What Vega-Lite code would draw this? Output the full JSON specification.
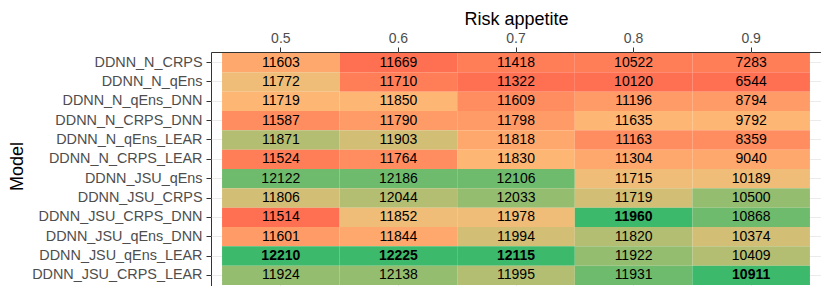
{
  "$schema": "https://vega.github.io/schema/vega-lite/v6.json",
  "width": 610,
  "height": 234,
  "autosize": {"type": "none"},
  "padding": {"left": 211, "top": 52, "right": 0, "bottom": 0},
  "background": "white",
  "config": {
    "view": {"stroke": "#333333", "strokeWidth": 1},
    "font": "Liberation Sans",
    "axis": {
      "labelColor": "#4D4D4D",
      "labelFontSize": 14,
      "labelFont": "Liberation Sans",
      "labelLimit": 400,
      "tickColor": "#333333",
      "tickSize": 5,
      "domain": false,
      "grid": true,
      "gridColor": "#EBEBEB",
      "gridWidth": 1,
      "zindex": 0,
      "titleColor": "#000000",
      "titleFontSize": 18,
      "titleFontWeight": "normal",
      "titleFont": "Liberation Sans"
    }
  },
  "data": {
    "values": [
      {"model": "DDNN_N_CRPS", "risk": 0.5, "value": 11603},
      {"model": "DDNN_N_CRPS", "risk": 0.6, "value": 11669},
      {"model": "DDNN_N_CRPS", "risk": 0.7, "value": 11418},
      {"model": "DDNN_N_CRPS", "risk": 0.8, "value": 10522},
      {"model": "DDNN_N_CRPS", "risk": 0.9, "value": 7283},
      {"model": "DDNN_N_qEns", "risk": 0.5, "value": 11772},
      {"model": "DDNN_N_qEns", "risk": 0.6, "value": 11710},
      {"model": "DDNN_N_qEns", "risk": 0.7, "value": 11322},
      {"model": "DDNN_N_qEns", "risk": 0.8, "value": 10120},
      {"model": "DDNN_N_qEns", "risk": 0.9, "value": 6544},
      {"model": "DDNN_N_qEns_DNN", "risk": 0.5, "value": 11719},
      {"model": "DDNN_N_qEns_DNN", "risk": 0.6, "value": 11850},
      {"model": "DDNN_N_qEns_DNN", "risk": 0.7, "value": 11609},
      {"model": "DDNN_N_qEns_DNN", "risk": 0.8, "value": 11196},
      {"model": "DDNN_N_qEns_DNN", "risk": 0.9, "value": 8794},
      {"model": "DDNN_N_CRPS_DNN", "risk": 0.5, "value": 11587},
      {"model": "DDNN_N_CRPS_DNN", "risk": 0.6, "value": 11790},
      {"model": "DDNN_N_CRPS_DNN", "risk": 0.7, "value": 11798},
      {"model": "DDNN_N_CRPS_DNN", "risk": 0.8, "value": 11635},
      {"model": "DDNN_N_CRPS_DNN", "risk": 0.9, "value": 9792},
      {"model": "DDNN_N_qEns_LEAR", "risk": 0.5, "value": 11871},
      {"model": "DDNN_N_qEns_LEAR", "risk": 0.6, "value": 11903},
      {"model": "DDNN_N_qEns_LEAR", "risk": 0.7, "value": 11818},
      {"model": "DDNN_N_qEns_LEAR", "risk": 0.8, "value": 11163},
      {"model": "DDNN_N_qEns_LEAR", "risk": 0.9, "value": 8359},
      {"model": "DDNN_N_CRPS_LEAR", "risk": 0.5, "value": 11524},
      {"model": "DDNN_N_CRPS_LEAR", "risk": 0.6, "value": 11764},
      {"model": "DDNN_N_CRPS_LEAR", "risk": 0.7, "value": 11830},
      {"model": "DDNN_N_CRPS_LEAR", "risk": 0.8, "value": 11304},
      {"model": "DDNN_N_CRPS_LEAR", "risk": 0.9, "value": 9040},
      {"model": "DDNN_JSU_qEns", "risk": 0.5, "value": 12122},
      {"model": "DDNN_JSU_qEns", "risk": 0.6, "value": 12186},
      {"model": "DDNN_JSU_qEns", "risk": 0.7, "value": 12106},
      {"model": "DDNN_JSU_qEns", "risk": 0.8, "value": 11715},
      {"model": "DDNN_JSU_qEns", "risk": 0.9, "value": 10189},
      {"model": "DDNN_JSU_CRPS", "risk": 0.5, "value": 11806},
      {"model": "DDNN_JSU_CRPS", "risk": 0.6, "value": 12044},
      {"model": "DDNN_JSU_CRPS", "risk": 0.7, "value": 12033},
      {"model": "DDNN_JSU_CRPS", "risk": 0.8, "value": 11719},
      {"model": "DDNN_JSU_CRPS", "risk": 0.9, "value": 10500},
      {"model": "DDNN_JSU_CRPS_DNN", "risk": 0.5, "value": 11514},
      {"model": "DDNN_JSU_CRPS_DNN", "risk": 0.6, "value": 11852},
      {"model": "DDNN_JSU_CRPS_DNN", "risk": 0.7, "value": 11978},
      {"model": "DDNN_JSU_CRPS_DNN", "risk": 0.8, "value": 11960},
      {"model": "DDNN_JSU_CRPS_DNN", "risk": 0.9, "value": 10868},
      {"model": "DDNN_JSU_qEns_DNN", "risk": 0.5, "value": 11601},
      {"model": "DDNN_JSU_qEns_DNN", "risk": 0.6, "value": 11844},
      {"model": "DDNN_JSU_qEns_DNN", "risk": 0.7, "value": 11994},
      {"model": "DDNN_JSU_qEns_DNN", "risk": 0.8, "value": 11820},
      {"model": "DDNN_JSU_qEns_DNN", "risk": 0.9, "value": 10374},
      {"model": "DDNN_JSU_qEns_LEAR", "risk": 0.5, "value": 12210},
      {"model": "DDNN_JSU_qEns_LEAR", "risk": 0.6, "value": 12225},
      {"model": "DDNN_JSU_qEns_LEAR", "risk": 0.7, "value": 12115},
      {"model": "DDNN_JSU_qEns_LEAR", "risk": 0.8, "value": 11922},
      {"model": "DDNN_JSU_qEns_LEAR", "risk": 0.9, "value": 10409},
      {"model": "DDNN_JSU_CRPS_LEAR", "risk": 0.5, "value": 11924},
      {"model": "DDNN_JSU_CRPS_LEAR", "risk": 0.6, "value": 12138},
      {"model": "DDNN_JSU_CRPS_LEAR", "risk": 0.7, "value": 11995},
      {"model": "DDNN_JSU_CRPS_LEAR", "risk": 0.8, "value": 11931},
      {"model": "DDNN_JSU_CRPS_LEAR", "risk": 0.9, "value": 10911}
    ]
  },
  "transform": [
    {"window": [{"op": "rank", "as": "rk"}], "groupby": ["risk"], "sort": [{"field": "value", "order": "ascending"}]}
  ],
  "encoding": {
    "x": {
      "field": "risk",
      "type": "ordinal",
      "scale": {"paddingInner": 0, "paddingOuter": 0.094},
      "axis": {"orient": "top", "title": "Risk appetite", "labelAngle": 0, "labelPadding": 2, "titlePadding": 3}
    },
    "y": {
      "field": "model",
      "type": "nominal",
      "sort": ["DDNN_N_CRPS", "DDNN_N_qEns", "DDNN_N_qEns_DNN", "DDNN_N_CRPS_DNN", "DDNN_N_qEns_LEAR", "DDNN_N_CRPS_LEAR", "DDNN_JSU_qEns", "DDNN_JSU_CRPS", "DDNN_JSU_CRPS_DNN", "DDNN_JSU_qEns_DNN", "DDNN_JSU_qEns_LEAR", "DDNN_JSU_CRPS_LEAR"],
      "scale": {"paddingInner": 0, "paddingOuter": 0.05},
      "axis": {"title": "Model", "labelFontSize": 14.4, "labelPadding": 4, "titlePadding": 5, "titleFontSize": 18, "titleY": 114}
    }
  },
  "layer": [
    {
      "mark": {"type": "rect", "zindex": 1},
      "encoding": {
        "color": {
          "field": "rk",
          "type": "quantitative",
          "scale": {"domain": [1, 6.5, 12], "range": ["#FF6F51", "#FDBC78", "#3CB96B"], "interpolate": "lab"},
          "legend": null
        }
      }
    },
    {
      "transform": [{"filter": "datum.rk < 12"}],
      "mark": {"type": "text", "zindex": 2, "fontSize": 14, "color": "#000000", "font": "Liberation Sans"},
      "encoding": {"text": {"field": "value", "type": "quantitative", "format": "d"}}
    },
    {
      "transform": [{"filter": "datum.rk == 12"}],
      "mark": {"type": "text", "zindex": 2, "fontSize": 14, "fontWeight": "bold", "color": "#000000", "font": "Liberation Sans"},
      "encoding": {"text": {"field": "value", "type": "quantitative", "format": "d"}}
    }
  ]
}
